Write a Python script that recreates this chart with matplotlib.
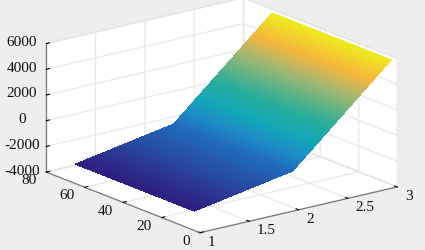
import numpy as np
import matplotlib
matplotlib.use("Agg")
import matplotlib.pyplot as plt
from matplotlib.colors import LinearSegmentedColormap

# values
x_low = [1.00, 1.05, 1.10, 1.15, 1.20, 1.25, 1.30, 1.35, 1.40, 1.45,
         1.50, 1.55, 1.60, 1.65, 1.70, 1.75, 1.80, 1.85, 1.90, 1.95]
x_high = [2.00, 2.02, 2.04, 2.06, 2.08, 2.10, 2.12, 2.14, 2.16, 2.18,
          2.20, 2.22, 2.24, 2.26, 2.28, 2.30, 2.32, 2.34, 2.36, 2.38,
          2.40, 2.42, 2.44, 2.46, 2.48, 2.50, 2.52, 2.54, 2.56, 2.58,
          2.60, 2.62, 2.64, 2.66, 2.68, 2.70, 2.72, 2.74, 2.76, 2.78,
          2.80, 2.82, 2.84, 2.86, 2.88, 2.90, 2.92, 2.94, 2.96, 2.98, 3.00]
y_values = [3, 65]
z_low = [-2500, -2430, -2365, -2300, -2230, -2165, -2095, -2030, -1960, -1895,
         -1825, -1760, -1690, -1620, -1555, -1490, -1420, -1355, -1285, -1220]
z_high = [-1150, -1010, -875, -735, -600, -460, -325, -185, -50, 90,
          225, 365, 500, 640, 775, 915, 1050, 1190, 1325, 1465,
          1600, 1740, 1875, 2015, 2150, 2290, 2425, 2565, 2700, 2840,
          2975, 3115, 3250, 3390, 3525, 3665, 3800, 3940, 4075, 4215,
          4350, 4490, 4625, 4765, 4900, 5040, 5175, 5315, 5450, 5590, 5700]
xticks = [1, 1.5, 2, 2.5, 3]
yticks = [0, 20, 40, 60, 80]
zticks = [-4000, -2000, 0, 2000, 4000, 6000]
xticklabels = ['1', '1.5', '2', '2.5', '3']
yticklabels = ['0', '20', '40', '60', '80']
zticklabels = ['-4000', '-2000', '0', '2000', '4000', '6000']

colors = [(0.00, '#2e1f80'), (0.082, '#28489f'), (0.164, '#1f6fbe'), (0.25, '#1e8ac6'),
          (0.36, '#12a6b8'), (0.50, '#2aae9a'), (0.62, '#6cb481'), (0.72, '#aab670'),
          (0.84, '#f5b63c'), (0.94, '#f1d52a'), (1.00, '#eee91e')]
cmap = LinearSegmentedColormap.from_list('surf', colors, N=256)

BG = '#eeeeec'
fig = plt.figure(figsize=(4.25, 2.5), dpi=100, facecolor=BG)
ax = fig.add_axes([3.5/425, -83.5/250, 1, 425/250], projection='3d', proj_type='ortho', facecolor=BG)
ax.patch.set_visible(False)
ax.view_init(elev=17.6, azim=-127.5)
ax.set_box_aspect((247, 251, 134), zoom=0.866)

X, Y = np.meshgrid(x_low + x_high, y_values)
Z = np.array([z_low + z_high, z_low + z_high])
ax.plot_surface(X, Y, Z, cmap=cmap, rstride=1, cstride=1, linewidth=0,
                antialiased=False, shade=False)

ax.set_xlim(1, 3); ax.set_ylim(0, 80); ax.set_zlim(-4000, 6000)
ax.set_xticks(xticks); ax.set_yticks(yticks); ax.set_zticks(zticks)
font = dict(family='Liberation Serif', fontsize=11, color='#111111')
ax.set_xticklabels(xticklabels, ha='left', va='center', **font)
ax.set_yticklabels(yticklabels, ha='right', va='center', **font)
ax.set_zticklabels(zticklabels, va='center', **font)
for a in (ax.xaxis, ax.yaxis, ax.zaxis):
    a.set_pane_color('white')
    a.pane.set_edgecolor('#e4e4e4')
    a.line.set_color('#7a7a7a')
    a.line.set_linewidth(0.9)
    a._axinfo['grid'].update(color='#e6e6e6', linewidth=0.8)
    a._axinfo['tick'].update(inward_factor=0.0, outward_factor=0.2, color='#7a7a7a')
ax.zaxis.set_ticks_position('upper')
ax.tick_params(axis='x', pad=0)
ax.tick_params(axis='y', pad=0)
ax.tick_params(axis='z', pad=3)
fig.savefig('out.png', dpi=100, facecolor=BG)
